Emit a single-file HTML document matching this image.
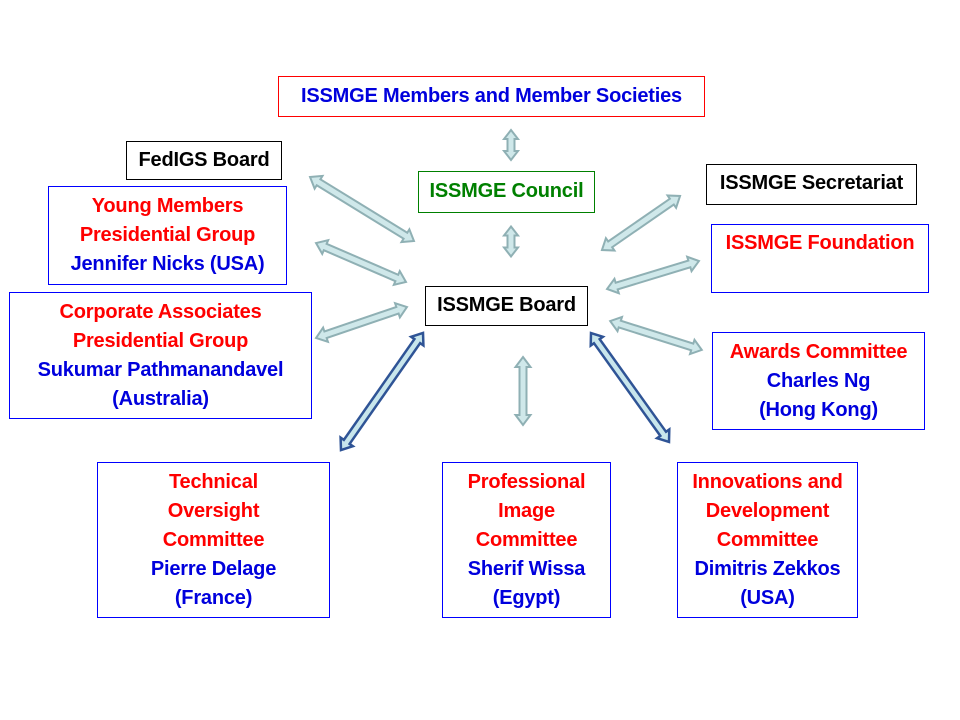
<!DOCTYPE html>
<html><head><meta charset="utf-8"><style>
body{margin:0;background:#fff;}
#c{position:relative;width:960px;height:720px;overflow:hidden;font-family:"Liberation Sans",Arial,sans-serif;font-weight:bold;font-size:20px;letter-spacing:-0.2px}
.b{position:absolute;box-sizing:border-box;border:1px solid;text-align:center;line-height:29px;background:#fff;white-space:nowrap}
.r{color:#ff0000}.u{color:#0000dd}.k{color:#000}.g{color:#008000}
svg{position:absolute;left:0;top:0}
</style></head><body><div id="c">
<svg width="960" height="720">
<g fill="#cfe8ea" stroke="#8fb0b4" stroke-width="2">
<polygon transform="translate(511,145) rotate(90)" points="-15,0 -6,-7 -6,-3.5 6,-3.5 6,-7 15,0 6,7 6,3.5 -6,3.5 -6,7"/>
<polygon transform="translate(511,241.5) rotate(90)" points="-15,0 -6,-7 -6,-3.5 6,-3.5 6,-7 15,0 6,7 6,3.5 -6,3.5 -6,7"/>
<polygon transform="translate(362,209) rotate(31.6)" points="-61,0 -51,-7.5 -51,-3.5 51,-3.5 51,-7.5 61,0 51,7.5 51,3.5 -51,3.5 -51,7.5"/>
<polygon transform="translate(361,262.5) rotate(23.4)" points="-49,0 -39,-7.5 -39,-3.5 39,-3.5 39,-7.5 49,0 39,7.5 39,3.5 -39,3.5 -39,7.5"/>
<polygon transform="translate(361.5,322.5) rotate(-18.8)" points="-48,0 -38,-7.5 -38,-3.5 38,-3.5 38,-7.5 48,0 38,7.5 38,3.5 -38,3.5 -38,7.5"/>
<polygon transform="translate(523,391) rotate(90)" points="-34,0 -24,-7.5 -24,-3.5 24,-3.5 24,-7.5 34,0 24,7.5 24,3.5 -24,3.5 -24,7.5"/>
<polygon transform="translate(641,223) rotate(-34.7)" points="-47.5,0 -37.5,-7.5 -37.5,-3.5 37.5,-3.5 37.5,-7.5 47.5,0 37.5,7.5 37.5,3.5 -37.5,3.5 -37.5,7.5"/>
<polygon transform="translate(653,275) rotate(-16.9)" points="-48,0 -38,-7.5 -38,-3.5 38,-3.5 38,-7.5 48,0 38,7.5 38,3.5 -38,3.5 -38,7.5"/>
<polygon transform="translate(656,335.5) rotate(17.5)" points="-48,0 -38,-7.5 -38,-3.5 38,-3.5 38,-7.5 48,0 38,7.5 38,3.5 -38,3.5 -38,7.5"/>
</g>
<g fill="#c8e6ec" stroke="#2f5496" stroke-width="2.5">
<polygon transform="translate(382,391.5) rotate(-55)" points="-71.5,0 -61.5,-7.5 -61.5,-3.5 61.5,-3.5 61.5,-7.5 71.5,0 61.5,7.5 61.5,3.5 -61.5,3.5 -61.5,7.5"/>
<polygon transform="translate(630,387.5) rotate(54.4)" points="-67,0 -57,-7.5 -57,-3.5 57,-3.5 57,-7.5 67,0 57,7.5 57,3.5 -57,3.5 -57,7.5"/>
</g>
</svg>
<div class="b u" style="left:278px;top:76px;width:427px;height:41px;border-color:#f00;padding-top:5px">ISSMGE Members and Member Societies</div>
<div class="b k" style="left:126px;top:141px;width:156px;height:39px;border-color:#000;padding-top:4px">FedIGS Board</div>
<div class="b g" style="left:418px;top:171px;width:177px;height:42px;border-color:#008000;padding-top:5px">ISSMGE Council</div>
<div class="b k" style="left:706px;top:164px;width:211px;height:41px;border-color:#000;padding-top:4px">ISSMGE Secretariat</div>
<div class="b" style="left:48px;top:186px;width:239px;height:99px;border-color:#00f;padding-top:5px"><span class="r">Young Members<br>Presidential Group</span><br><span class="u">Jennifer Nicks (USA)</span></div>
<div class="b r" style="left:711px;top:224px;width:218px;height:69px;border-color:#00f;padding-top:4px">ISSMGE Foundation</div>
<div class="b" style="left:9px;top:292px;width:303px;height:127px;border-color:#00f;padding-top:5px"><span class="r">Corporate Associates<br>Presidential Group</span><br><span class="u">Sukumar Pathmanandavel<br>(Australia)</span></div>
<div class="b k" style="left:425px;top:286px;width:163px;height:40px;border-color:#000;padding-top:4px">ISSMGE Board</div>
<div class="b" style="left:712px;top:332px;width:213px;height:98px;border-color:#00f;padding-top:5px"><span class="r">Awards Committee</span><br><span class="u">Charles Ng<br>(Hong Kong)</span></div>
<div class="b" style="left:97px;top:462px;width:233px;height:156px;border-color:#00f;padding-top:5px"><span class="r">Technical<br>Oversight<br>Committee</span><br><span class="u">Pierre Delage<br>(France)</span></div>
<div class="b" style="left:442px;top:462px;width:169px;height:156px;border-color:#00f;padding-top:5px"><span class="r">Professional<br>Image<br>Committee</span><br><span class="u">Sherif Wissa<br>(Egypt)</span></div>
<div class="b" style="left:677px;top:462px;width:181px;height:156px;border-color:#00f;padding-top:5px"><span class="r">Innovations and<br>Development<br>Committee</span><br><span class="u">Dimitris Zekkos<br>(USA)</span></div>
</div></body></html>
